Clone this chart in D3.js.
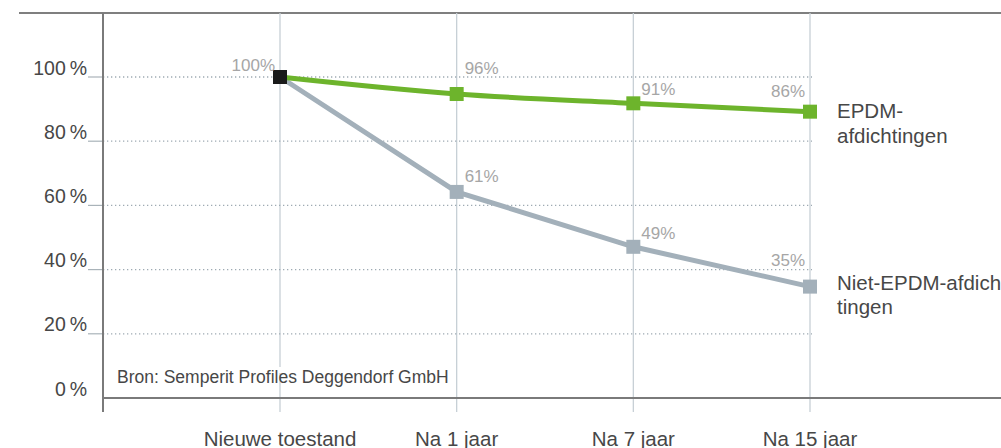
<!DOCTYPE html>
<html>
<head>
<meta charset="utf-8">
<script src="https://cdn.jsdelivr.net/npm/d3@7"></script>
<style>
  body { margin: 0; background: #fff; }
  svg { display: block; font-family: "Liberation Sans", Arial, sans-serif; }
</style>
</head>
<body>
<div id="chart"></div>
<script>
// categorieen op de x-as
var categories = ["Nieuwe toestand", "Na 1 jaar", "Na 7 jaar", "Na 15 jaar"];

// waarden zoals de punten in de grafiek staan
var epdmValues = [100, 94.7, 91.8, 89.2];
var nietEpdmValues = [100, 64.2, 47.1, 34.7];

// labels bij de punten
var epdmLabels = ["100%", "96%", "91%", "86%"];
var nietEpdmLabels = ["", "61%", "49%", "35%"];

// y-as ticks
var yTicks = [0, 20, 40, 60, 80, 100];
var yTickLabels = ["0\u2009%", "20\u2009%", "40\u2009%", "60\u2009%", "80\u2009%", "100\u2009%"];

var legendEpdm = ["EPDM-", "afdichtingen"];
var legendNiet = ["Niet-EPDM-afdich", "tingen"];
var sourceText = "Bron: Semperit Profiles Deggendorf GmbH";

// kleuren
var green = "#6db42c";
var grey = "#a3b0ba";
var gridColor = "#c7d0d6";
var axisColor = "#7a7a7a";
var textColor = "#474747";

var width = 1001, height = 448;
var svg = d3.select("#chart").append("svg")
    .attr("width", width)
    .attr("height", height);

// schalen
var x = d3.scalePoint().domain(categories).range([280, 810]);
var y = d3.scaleLinear().domain([0, 100]).range([398, 77]);

// bovenste lijn
svg.append("line")
    .attr("x1", 19).attr("x2", width)
    .attr("y1", 13).attr("y2", 13)
    .attr("stroke", "#555").attr("stroke-width", 1.5);

// verticale rasterlijnen
svg.append("g").selectAll("line")
    .data(categories)
    .enter().append("line")
    .attr("x1", function(d) { return x(d); })
    .attr("x2", function(d) { return x(d); })
    .attr("y1", 13).attr("y2", 412)
    .attr("stroke", gridColor).attr("stroke-width", 1.3);

// horizontale stippellijnen
svg.append("g").selectAll("line")
    .data(yTicks.filter(function(d) { return d > 0; }))
    .enter().append("line")
    .attr("x1", 103).attr("x2", 812)
    .attr("y1", function(d) { return y(d); })
    .attr("y2", function(d) { return y(d); })
    .attr("stroke", "#9eaab3").attr("stroke-width", 1.3)
    .attr("stroke-dasharray", "1.3,2.7");

// korte tickstreepjes links
svg.append("g").selectAll("line")
    .data(yTicks.filter(function(d) { return d > 0; }))
    .enter().append("line")
    .attr("x1", 88).attr("x2", 103)
    .attr("y1", function(d) { return y(d); })
    .attr("y2", function(d) { return y(d); })
    .attr("stroke", "#a9b3b9").attr("stroke-width", 1.2);

// y labels
svg.append("g").selectAll("text")
    .data(yTicks)
    .enter().append("text")
    .attr("x", 87)
    .attr("y", function(d) { return y(d) - 2.5; })
    .attr("text-anchor", "end")
    .attr("font-size", 19.5)
    .attr("fill", textColor)
    .text(function(d, i) { return yTickLabels[i]; });

// assen
svg.append("line")
    .attr("x1", 103).attr("x2", 103)
    .attr("y1", 13).attr("y2", 412)
    .attr("stroke", axisColor).attr("stroke-width", 2);
svg.append("line")
    .attr("x1", 103).attr("x2", width)
    .attr("y1", y(0)).attr("y2", y(0))
    .attr("stroke", axisColor).attr("stroke-width", 2);

// bron
svg.append("rect")
    .attr("x", 270).attr("y", 367).attr("width", 20).attr("height", 6)
    .attr("fill", "#fff");
svg.append("text")
    .attr("x", 117).attr("y", 383)
    .attr("font-size", 17.5)
    .attr("fill", textColor)
    .text(sourceText);

// lijnen
var line = d3.line()
    .x(function(d, i) { return x(categories[i]); })
    .y(function(d) { return y(d); });

svg.append("path")
    .datum(nietEpdmValues)
    .attr("d", line)
    .attr("fill", "none")
    .attr("stroke", grey).attr("stroke-width", 5);

svg.append("path")
    .datum(epdmValues)
    .attr("d", line.curve(d3.curveMonotoneX))
    .attr("fill", "none")
    .attr("stroke", green).attr("stroke-width", 5);

// markers
var size = 14;
svg.append("g").selectAll("rect")
    .data(nietEpdmValues.slice(1))
    .enter().append("rect")
    .attr("x", function(d, i) { return x(categories[i + 1]) - size / 2; })
    .attr("y", function(d) { return y(d) - size / 2; })
    .attr("width", size).attr("height", size)
    .attr("fill", grey);

svg.append("g").selectAll("rect")
    .data(epdmValues.slice(1))
    .enter().append("rect")
    .attr("x", function(d, i) { return x(categories[i + 1]) - size / 2; })
    .attr("y", function(d) { return y(d) - size / 2; })
    .attr("width", size).attr("height", size)
    .attr("fill", green);

// startpunt
svg.append("rect")
    .attr("x", x(categories[0]) - 7).attr("y", y(epdmValues[0]) - 7)
    .attr("width", 14).attr("height", 14)
    .attr("fill", "#1a1a1a");

// waardelabels: eerste en laatste links van de lijn, midden rechts
var epdmDy = [-6, -20, -8, -15];
var nietDy = [0, -10, -8, -21];
function addLabels(values, labels, dys) {
    svg.append("g").selectAll("text")
        .data(values)
        .enter().append("text")
        .attr("x", function(d, i) {
            var cx = x(categories[i]);
            return (i == 0 || i == categories.length - 1) ? cx - 5 : cx + 8;
        })
        .attr("y", function(d, i) { return y(d) + dys[i]; })
        .attr("text-anchor", function(d, i) {
            return (i == 0 || i == categories.length - 1) ? "end" : "start";
        })
        .attr("font-size", 17)
        .attr("fill", "#a6a6a6")
        .text(function(d, i) { return labels[i]; });
}
addLabels(epdmValues, epdmLabels, epdmDy);
addLabels(nietEpdmValues, nietEpdmLabels, nietDy);

// legenda
svg.append("text")
    .attr("x", 837).attr("y", 118)
    .attr("font-size", 20.5).attr("fill", textColor)
    .selectAll("tspan")
    .data(legendEpdm)
    .enter().append("tspan")
    .attr("x", 837)
    .attr("dy", function(d, i) { return i == 0 ? 0 : 24.5; })
    .text(function(d) { return d; });

svg.append("text")
    .attr("x", 837).attr("y", 290)
    .attr("font-size", 20.5).attr("fill", textColor)
    .selectAll("tspan")
    .data(legendNiet)
    .enter().append("tspan")
    .attr("x", 837)
    .attr("dy", function(d, i) { return i == 0 ? 0 : 23.5; })
    .text(function(d) { return d; });

// x labels
svg.append("g").selectAll("text")
    .data(categories)
    .enter().append("text")
    .attr("x", function(d) { return x(d); })
    .attr("y", 445.5)
    .attr("text-anchor", "middle")
    .attr("font-size", 20.5)
    .attr("fill", textColor)
    .text(function(d) { return d; });
</script>
</body>
</html>
